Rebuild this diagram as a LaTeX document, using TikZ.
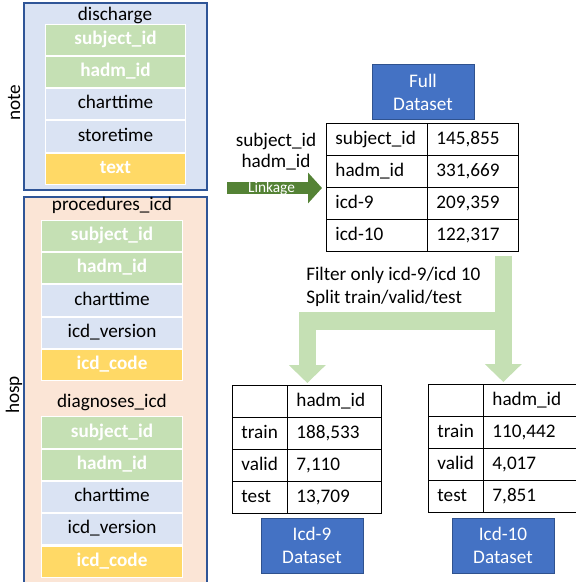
\documentclass[tikz,border=0pt]{standalone}
\usepackage{fontspec}
\setmainfont{Carlito}
\usetikzlibrary{positioning,matrix,arrows.meta}
\definecolor{panelblue}{HTML}{DAE3F3}
\definecolor{panelrose}{HTML}{FBE5D6}
\definecolor{frameblue}{HTML}{2F5597}
\definecolor{keygreen}{HTML}{C5E0B4}
\definecolor{codeyellow}{HTML}{FFD966}
\definecolor{boxblue}{HTML}{4472C4}
\definecolor{boxedge}{HTML}{2F528F}
\definecolor{linkgreen}{HTML}{548235}
\begin{document}
\begin{tikzpicture}
  [x=0.75pt, y=-0.75pt, node distance=0pt,
   every node/.style={font=\fontsize{14.4}{17.3}\selectfont, inner sep=0pt},
   field/.style={draw=white, line width=0.8pt, fill=panelblue, minimum width=105.5pt,
     minimum height=23.4pt, text height=10pt, text depth=3pt},
   keyfield/.style={field, fill=keygreen, text=white, font=\fontsize{14.4}{17.3}\selectfont\bfseries},
   codefield/.style={field, fill=codeyellow, text=white, font=\fontsize{14.4}{17.3}\selectfont\bfseries},
   panel/.style={draw=frameblue, line width=1.1pt},
   dataset/.style={fill=boxblue, draw=boxedge, text=white, align=center,
     minimum width=76.5pt, minimum height=41.25pt},
   tcell/.style={draw, line width=0.8pt, inner xsep=6.5pt, minimum height=24pt,
     text height=10pt, text depth=3pt, align=left},
   table/.style={matrix of nodes, nodes in empty cells, anchor=north west, inner sep=0pt,
     column sep=-0.8pt, row sep=-0.8pt, nodes={tcell}},
   linkarrow/.style={line width=9pt, linkgreen, -{Triangle[width=22.5pt,length=10.5pt]}},
   fatarrow/.style={line width=13.1pt, keygreen, -{Triangle[width=27pt,length=13.5pt]}}]
  \useasboundingbox (0,0) rectangle (575,582);

  % source tables
  \draw[panel, fill=panelblue] (24,3) rectangle (207,190);
  \draw[panel, fill=panelrose] (24,197) rectangle (207,590);
  \node[rotate=90] (note) at (14,103) {note};
  \node[rotate=90] (hosp) at (14,395) {hosp};

  \node (discharge) at (115,15) {discharge};
  \node[keyfield] (dsubj) at (115.5,39.7) {subject\_id};
  \node[keyfield, below=of dsubj] (dhadm) {hadm\_id};
  \node[field, below=of dhadm] (dchart) {charttime};
  \node[field, below=of dchart] (dstore) {storetime};
  \node[codefield, below=of dstore] (dtext) {text};

  \node (procedures) at (112,205) {procedures\_icd};
  \node[keyfield] (psubj) at (112,236) {subject\_id};
  \node[keyfield, below=of psubj] (phadm) {hadm\_id};
  \node[field, below=of phadm] (pchart) {charttime};
  \node[field, below=of pchart] (pversion) {icd\_version};
  \node[codefield, below=of pversion] (pcode) {icd\_code};

  \node (diagnoses) at (112,402) {diagnoses\_icd};
  \node[keyfield] (gsubj) at (112,432.5) {subject\_id};
  \node[keyfield, below=of gsubj] (ghadm) {hadm\_id};
  \node[field, below=of ghadm] (gchart) {charttime};
  \node[field, below=of gchart] (gversion) {icd\_version};
  \node[codefield, below=of gversion] (gcode) {icd\_code};

  % full dataset
  \node[dataset] (fullbox) at (423,92) {Full\\Dataset};
  \matrix (full) [table, column 1/.style={nodes={text width=62.75pt}},
    column 2/.style={nodes={text width=55.25pt}}] at (326,123) {
    subject\_id & 145,855 \\
    hadm\_id    & 331,669 \\
    icd-9       & 209,359 \\
    icd-10      & 122,317 \\
  };
  \node[align=center, font=\fontsize{14.4}{15.8}\selectfont] (linkkeys) at (276,151.5) {subject\_id\\hadm\_id};
  \coordinate (linkstart) at (227,188);
  \draw[linkarrow, shorten >=3pt] (linkstart) -- (linkstart -| full.west)
    node[pos=0.45, text=white, font=\fontsize{11.5}{13}\selectfont] (linkage) {Linkage};

  % split datasets
  \node[align=left, anchor=west] (filter) at (306,286.5) {Filter only icd-9/icd 10\\Split train/valid/test};
  \matrix (nine) [table, column 1/.style={nodes={text width=28.25pt}},
    column 2/.style={nodes={text width=57.5pt}}] at (232,385) {
          & hadm\_id \\
    train & 188,533 \\
    valid & 7,110   \\
    test  & 13,709  \\
  };
  \matrix (ten) [table, column 1/.style={nodes={text width=28.25pt}},
    column 2/.style={nodes={text width=57.5pt}}] at (428,384) {
          & hadm\_id \\
    train & 110,442 \\
    valid & 4,017   \\
    test  & 7,851   \\
  };
  \node[dataset] (ninebox) at (312,545.5) {Icd-9\\Dataset};
  \node[dataset] (tenbox) at (503,545.5) {Icd-10\\Dataset};

  \coordinate (split) at (503,321);
  \draw[fatarrow, shorten <=2.2pt, shorten >=1.5pt] (ten.north |- full.south) -- (ten.north);
  \draw[fatarrow, shorten >=1.5pt] (split) -| (nine.north);
\end{tikzpicture}
\end{document}
